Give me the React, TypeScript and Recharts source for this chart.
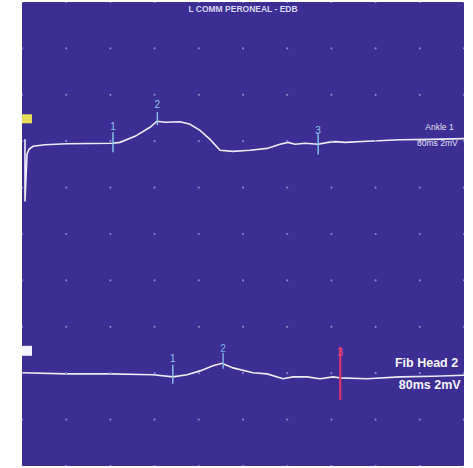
import React from 'react';
import {
  ComposedChart, Line, Scatter, XAxis, YAxis, CartesianGrid,
  ReferenceLine, ReferenceDot, ReferenceArea,
} from 'recharts';

// time in ms (8 ms / division), amplitude in mV (2 mV / division, offset display)
const gridXTicks = [0, 8, 16, 24, 32, 40, 48, 56, 64, 72, 80];
const gridYTicks = [0, 2, 4, 6, 8, 10, 12, 14, 16, 18, 20];

const ankleTime = [0.54, 0.54, 0.91, 1.27, 1.99, 4.16, 8.14, 16.47, 17.74, 20.45, 23.17, 24.43, 25.88, 28.6, 30.41, 32.22, 34.03, 35.84, 38.19, 41.27, 44.35, 46.7, 48.15, 49.42, 51.23, 53.58, 55.39, 56.66, 58.47, 62.45, 68.42, 73.85, 80.0];
const ankleMv = [14.08, 11.4, 13.44, 13.65, 13.78, 13.85, 13.89, 13.91, 13.95, 14.21, 14.6, 14.86, 14.82, 14.84, 14.73, 14.47, 14.08, 13.61, 13.56, 13.61, 13.69, 13.87, 13.95, 13.87, 13.91, 13.87, 13.95, 13.98, 13.95, 14.0, 14.06, 14.08, 14.11];

const fibTime = [0, 8.14, 15.93, 23.71, 27.33, 29.87, 32.22, 34.57, 36.2, 38.19, 41.81, 44.35, 47.24, 49.05, 51.59, 53.94, 56.29, 57.56, 62.45, 68.42, 74.39, 80.0];
const fibMv = [4.02, 3.97, 3.97, 3.93, 3.84, 3.93, 4.1, 4.32, 4.43, 4.23, 4.02, 3.97, 3.76, 3.84, 3.84, 3.76, 3.84, 3.8, 3.76, 3.84, 3.87, 3.91];

const markerLabels = ['1', '2', '3'];
const ankleMarkerTime = [16.47, 24.5, 53.6];
const ankleMarkerTop = [14.39, 15.25, 14.3];
const ankleMarkerBottom = [13.52, 14.69, 13.43];
const ankleMarkerLabelMv = [14.64, 15.6, 14.47];

const fibMarkerTime = [27.3, 36.4, 57.6];
const fibMarkerTop = [4.36, 4.88, 5.14];
const fibMarkerBottom = [3.54, 4.19, 2.85];
const fibMarkerLabelMv = [4.62, 5.05, 4.88];
const fibMarkerColors = ['#8ec5ee', '#7fb2ea', '#d8346c'];
const fibMarkerTextColors = ['#8ec5ee', '#7fb2ea', '#f04876'];

const title = 'L COMM PERONEAL - EDB';
const ankleLabels = ['Ankle 1', '80ms 2mV'];
const fibLabels = ['Fib Head 2', '80ms 2mV'];

const ankleData = ankleTime.map((x, i) => ({ x, y: ankleMv[i] }));
const fibData = fibTime.map((x, i) => ({ x, y: fibMv[i] }));
const gridDots = gridXTicks.flatMap((x) => gridYTicks.map((y) => ({ x, y })));

const BG = '#3d2e94';
const TRACE = '#ecebf7';

export default function App() {
  return (
    <div style={{ position: 'absolute', left: 0, top: 0, width: 473, height: 468, background: '#fff' }}>
      <ComposedChart
        width={464}
        height={468}
        margin={{ top: 2, right: 0, bottom: 2, left: 22 }}
        style={{ fontFamily: '"Liberation Sans", Arial, sans-serif' }}
      >
        <CartesianGrid fill={BG} horizontal={false} vertical={false} />
        <XAxis
          dataKey="x"
          type="number"
          domain={[0, 80]}
          ticks={gridXTicks}
          tick={false}
          tickLine={false}
          height={0}
          allowDataOverflow
          axisLine={{ stroke: '#000', strokeWidth: 2 }}
        />
        <XAxis
          xAxisId="top"
          orientation="top"
          dataKey="x"
          type="number"
          domain={[0, 80]}
          tick={false}
          tickLine={false}
          height={0}
          axisLine={{ stroke: '#000', strokeWidth: 4 }}
        />
        <YAxis
          type="number"
          domain={[0, 20]}
          ticks={gridYTicks}
          tick={false}
          tickLine={false}
          width={0}
          allowDataOverflow
          axisLine={{ stroke: '#b4aedc', strokeWidth: 4 }}
        />
        <Scatter
          data={gridDots}
          dataKey="y"
          isAnimationActive={false}
          shape={(p: any) => <circle cx={p.cx} cy={p.cy} r={1.1} fill="#8a82c6" />}
        />
        <ReferenceArea x1={0} x2={1.81} y1={14.77} y2={15.16} fill="#e6de58" fillOpacity={1} stroke="none" />
        <ReferenceArea x1={0} x2={1.81} y1={4.75} y2={5.18} fill="#f4f2fa" fillOpacity={1} stroke="none" />
        <Line data={ankleData} dataKey="y" type="linear" stroke={TRACE} strokeWidth={1.6} dot={false} isAnimationActive={false} />
        <Line data={fibData} dataKey="y" type="linear" stroke={TRACE} strokeWidth={1.6} dot={false} isAnimationActive={false} />
        {ankleMarkerTime.map((t, i) => (
          <ReferenceLine
            key={'al' + i}
            segment={[{ x: t, y: ankleMarkerTop[i] }, { x: t, y: ankleMarkerBottom[i] }]}
            stroke="#8ec5ee"
            strokeWidth={1.4}
          />
        ))}
        {ankleMarkerTime.map((t, i) => (
          <ReferenceDot
            key={'ad' + i}
            x={t}
            y={ankleMarkerLabelMv[i]}
            r={0}
            fill="none"
            stroke="none"
            label={{ value: markerLabels[i], position: 'center', fill: '#8ec5ee', fontSize: 10 }}
          />
        ))}
        {fibMarkerTime.map((t, i) => (
          <ReferenceLine
            key={'fl' + i}
            segment={[{ x: t, y: fibMarkerTop[i] }, { x: t, y: fibMarkerBottom[i] }]}
            stroke={fibMarkerColors[i]}
            strokeWidth={i === 2 ? 2.2 : 1.4}
          />
        ))}
        {fibMarkerTime.map((t, i) => (
          <ReferenceDot
            key={'fd' + i}
            x={t}
            y={fibMarkerLabelMv[i]}
            r={0}
            fill="none"
            stroke="none"
            label={{ value: markerLabels[i], position: 'center', fill: fibMarkerTextColors[i], fontSize: 10 }}
          />
        ))}
        <ReferenceDot
          x={40}
          y={19.7}
          r={0}
          fill="none"
          stroke="none"
          label={{ value: title, position: 'center', fill: '#d8d6f0', fontSize: 8.5, fontWeight: 'bold' }}
        />
        <ReferenceDot x={73.0} y={14.6} r={0} fill="none" stroke="none"
          label={{ value: ankleLabels[0], position: 'right', offset: 0, fill: '#e2e0f2', fontSize: 8.5 }} />
        <ReferenceDot x={71.5} y={13.91} r={0} fill="none" stroke="none"
          label={{ value: ankleLabels[1], position: 'right', offset: 0, fill: '#e2e0f2', fontSize: 8.5 }} />
        <ReferenceDot x={67.5} y={4.45} r={0} fill="none" stroke="none"
          label={{ value: fibLabels[0], position: 'right', offset: 0, fill: '#f4f3fb', fontSize: 12.5, fontWeight: 'bold' }} />
        <ReferenceDot x={68.2} y={3.5} r={0} fill="none" stroke="none"
          label={{ value: fibLabels[1], position: 'right', offset: 0, fill: '#f4f3fb', fontSize: 12.5, fontWeight: 'bold' }} />
      </ComposedChart>
    </div>
  );
}
